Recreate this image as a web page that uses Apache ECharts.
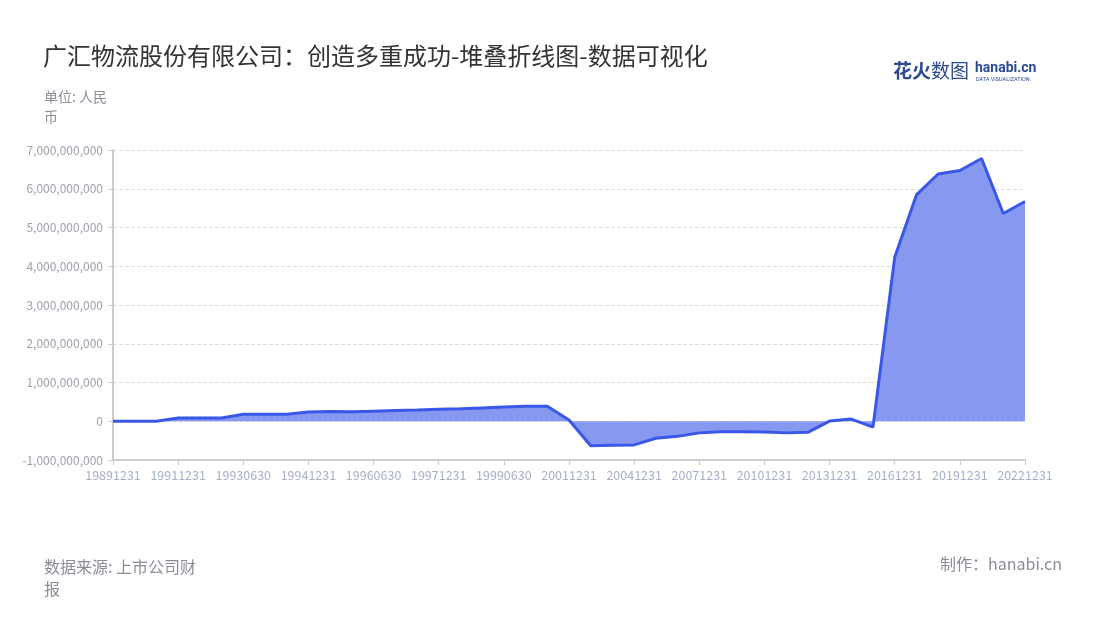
<!DOCTYPE html>
<html>
<head>
<meta charset="utf-8">
<script src="https://cdn.jsdelivr.net/npm/echarts@6/dist/echarts.min.js"></script>
<style>
html,body{margin:0;padding:0;background:#fff;}
#main{width:1100px;height:620px;}
</style>
</head>
<body>
<div id="main"></div>
<script>
const categories = [
  '19891231','19901231','19910630','19911231','19920630','19921231','19930630','19931231','19940630','19941231',
  '19950630','19951231','19960630','19961231','19970630','19971231','19980630','19981231','19990630','19991231',
  '20001231','20011231','20021231','20031231','20041231','20051231','20061231','20071231','20081231','20091231',
  '20101231','20111231','20121231','20131231','20141231','20151231','20161231','20171231','20181231','20191231',
  '20201231','20211231','20221231'
];
const values = [
  0, 0, 0, 85000000, 85000000, 85000000, 180000000, 180000000, 180000000, 240000000,
  250000000, 245000000, 260000000, 275000000, 290000000, 310000000, 320000000, 345000000, 370000000, 385000000,
  390000000, 30000000, -630000000, -620000000, -610000000, -440000000, -390000000, -300000000, -270000000, -270000000,
  -275000000, -300000000, -285000000, 5000000, 55000000, -150000000, 4230000000, 5840000000, 6380000000, 6470000000,
  6780000000, 5360000000, 5670000000
];
const yTicks = { min: -1000000000, max: 7000000000, interval: 1000000000 };
const seriesName = '广汇物流股份有限公司';

const chart = echarts.init(document.getElementById('main'), null, {renderer: 'canvas'});
const fmt = v => v.toString().replace(/\B(?=(\d{3})+(?!\d))/g, ',');
const cjk = '"Noto Sans CJK SC","Noto Sans",sans-serif';
chart.setOption({
  backgroundColor: '#fff',
  textStyle: { fontFamily: cjk },
  title: {
    text: '广汇物流股份有限公司：创造多重成功-堆叠折线图-数据可视化',
    left: 38, top: 39,
    textStyle: { fontSize: 24, fontWeight: 'normal', color: '#333', fontFamily: cjk }
  },
  graphic: [
    { type: 'text', left: 44, top: 87, style: { text: '单位: 人民\n币', fontSize: 14, lineHeight: 20, fill: '#8c8c99', fontFamily: cjk } },
    { type: 'text', left: 44, top: 556, style: { text: '数据来源: 上市公司财\n报', fontSize: 16, lineHeight: 22, fill: '#8c8c99', fontFamily: cjk } },
    { type: 'text', right: 38, top: 556, style: { text: '制作：hanabi.cn', fontSize: 16, fill: '#8c8c99', fontFamily: cjk } },
    { type: 'text', left: 893, top: 61, style: { text: '花火', fontSize: 19, fontWeight: 'bold', fill: '#2b4a8f', fontFamily: cjk } },
    { type: 'text', left: 931, top: 61, style: { text: '数图', fontSize: 19, fill: '#2b4a8f', fontFamily: cjk } },
    { type: 'text', left: 975, top: 61, style: { text: 'hanabi.cn', fontSize: 14, fontWeight: 'bold', fill: '#2b4a8f', fontFamily: 'Roboto,sans-serif' } },
    { type: 'text', left: 976, top: 77, style: { text: 'DATA VISUALIZATION', fontSize: 5.5, fill: '#2b4a8f', fontFamily: 'Roboto,sans-serif' } }
  ],
  grid: { left: 113, right: 75, top: 150, bottom: 160, containLabel: false },
  tooltip: { trigger: 'axis' },
  xAxis: {
    type: 'category',
    data: categories,
    boundaryGap: false,
    axisLine: { show: true, onZero: false, lineStyle: { color: '#ccc', width: 2 } },
    axisTick: { show: true, interval: 2, length: 5, lineStyle: { color: '#ccc' } },
    axisLabel: { interval: 2, color: '#a7b0c6', fontSize: 12.5, margin: 9 },
    splitLine: { show: false }
  },
  yAxis: {
    type: 'value',
    min: yTicks.min, max: yTicks.max, interval: yTicks.interval,
    axisLine: { show: true, lineStyle: { color: '#ccc', width: 2 } },
    axisTick: { show: true, length: 5, lineStyle: { color: '#ccc' } },
    axisLabel: { color: '#a0a0ad', fontSize: 12, formatter: fmt, margin: 10 },
    splitLine: { show: true, lineStyle: { type: 'dashed', color: '#dddddd' } }
  },
  series: [{
    name: seriesName,
    type: 'line',
    stack: 'total',
    data: values,
    symbol: 'none',
    lineStyle: { color: '#3a57e8', width: 3 },
    itemStyle: { color: '#3a57e8' },
    areaStyle: { color: '#8698f0', opacity: 1 }
  }]
});
</script>
</body>
</html>
